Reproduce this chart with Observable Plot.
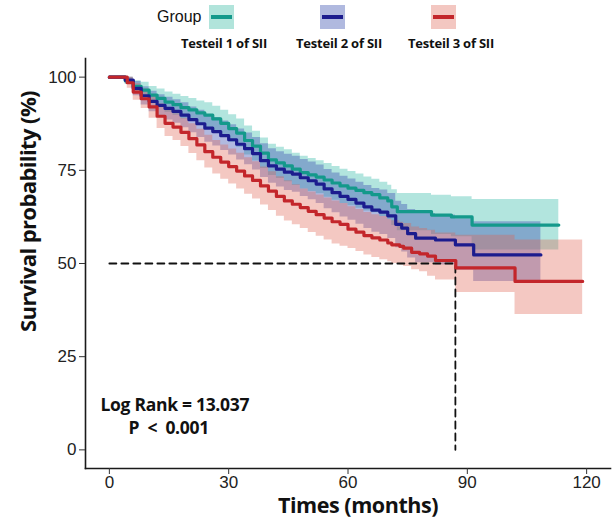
<!DOCTYPE html>
<html>
<head>
<meta charset="utf-8">
<script src="https://cdn.jsdelivr.net/npm/d3@7"></script>
<script src="https://cdn.jsdelivr.net/npm/@observablehq/plot@0.6"></script>
<style>
  html, body { margin: 0; padding: 0; background: #ffffff; }
  #wrap { position: relative; width: 614px; height: 520px; overflow: hidden; }
  #legend { position: absolute; left: 0; top: 0; width: 614px; height: 56px; }
  .lg-title { position: absolute; left: 157px; top: 8px; font: 16px "Liberation Sans", Arial, sans-serif; color: #111; }
  .lg-key { position: absolute; top: 5px; width: 25px; height: 24px; }
  .lg-key i { position: absolute; left: 2px; right: 2px; top: 10px; height: 4px; display: block; }
  .lg-lab { position: absolute; top: 34px; width: 120px; margin-left: -60px; text-align: center;
            font: bold 13px "Open Sans", sans-serif; letter-spacing: -0.2px; color: #111; }
  #chart { position: absolute; left: 0; top: 0; }
</style>
</head>
<body>
<div id="wrap">
  <div id="chart"></div>
  <div id="legend"></div>
</div>
<script>
// ---------- data ----------
const groups = ["Testeil 1 of SII", "Testeil 2 of SII", "Testeil 3 of SII"];
const legendTitle = "Group";
const xTicks = [0, 30, 60, 90, 120];
const yTicks = [0, 25, 50, 75, 100];
const xLabel = "Times (months)";
const yLabel = "Survival probability (%)";
const statLine1 = "Log Rank = 13.037";
const statLine2 = "P < 0.001";
const medianTime = 87;
const medianSurv = 50;

// Group 1 (teal)
const t1 = [0,3,4,6,8,10,12,14,16,18,20,22,24,26,28,30,32,34,36,38,40,42,44,46,48,50,52,54,56,58,60,62,64,66,68,70,71,72.4,81,86,91.2,113];
const s1 = [100,100,99,97.5,96.5,95.2,94.3,93.3,92.6,91.8,91.2,90.4,89.8,88.8,87.6,86.2,85,83,81.5,79.6,77.8,77,76.2,75.3,74.4,73.8,73.2,72.4,71.6,70.8,70.2,69.6,69,68.5,67.6,66.8,65.2,63.9,63,62.5,60.3,60.3];
const lo1 = [100,100,98,96,94.4,92.9,91.8,90.6,89.8,88.8,88.1,87.2,86.5,85.4,84.1,82.5,81.2,79.1,77.5,75.5,73.6,72.8,71.9,70.9,70,69.3,68.7,67.8,67,66.1,65.5,64.8,64.1,63.6,62.6,61.8,60.2,58.8,57.8,57.2,53.6,53.6];
const hi1 = [100,100,100,99,98.6,97.5,96.8,96,95.4,94.8,94.3,93.6,93.1,92.2,91.1,89.9,88.8,86.9,85.5,83.7,82,81.2,80.5,79.6,78.8,78.2,77.6,76.8,76,75.3,74.7,74,73.2,72.6,71.8,71,69.8,68.8,68.3,67.9,67.2,67.2];

// Group 2 (navy)
const t2 = [0,3,4,6,8,10,12,14,16,18,20,22,24,26,28,30,32,34,36,38,40,42,44,46,48,50,52,54,56,58,60,62,64,66,68,70,72,73.5,75,77,82,87,91.6,108.5];
const s2 = [100,100,99.2,97,95,93.5,92.4,91.6,90.8,89.8,88.6,87.5,86.3,85.4,84.3,83.2,82,80.8,79.5,77.6,76.2,75.3,74.5,74,73,72.2,71.3,70,69,68,67.2,66.2,65.2,64.3,63.8,62.8,60.5,59.5,58,56.8,56.3,55,52.3,52.3];
const lo2 = [100,100,98.2,95,92.5,90.7,89.4,88.5,87.6,86.4,85.1,83.8,82.5,81.5,80.3,79.1,77.8,76.5,75.1,73.1,71.5,70.5,69.6,69.1,68,67.1,66.1,64.7,63.6,62.5,61.6,60.5,59.4,58.4,57.8,56.7,54.2,53.1,51.5,50.2,49.6,48.2,45.2,45.2];
const hi2 = [100,100,100,98.8,97.4,96.2,95.3,94.6,93.9,93.1,92,91.1,90,89.2,88.2,87.2,86.1,85,83.8,82.1,80.8,80,79.3,78.8,77.9,77.2,76.4,75.2,74.3,73.4,72.7,71.8,70.9,70.1,69.7,68.8,66.7,65.8,64.5,63.4,63,62,61.2,61.2];

// Group 3 (red)
const t3 = [0,3.4,4.5,6,8,10,12,14,16,18,20,22,24,26,28,30,32,34,36,38,40,42,44,46,48,50,52,54,56,58,60,62,64,66,68,70,71,73,74,76,78,80,82,87.1,102,119];
const s3 = [100,100,98.5,96,94.2,92,89.5,87.6,86.6,85.2,83.5,81.8,80,78.5,77.2,76,74.8,73.5,72.3,70.8,69.4,68,66.8,65.9,65,64,63.1,62.2,61.2,60.5,59.2,58.4,57.5,56.9,56.3,55.5,55,54.6,54.1,53,52.6,52,50.8,48.8,45.2,45.2];
const lo3 = [100,100,97,93.8,91.6,89,86.2,84.1,83,81.4,79.5,77.6,75.6,74,72.6,71.3,70,68.6,67.3,65.7,64.2,62.7,61.4,60.4,59.4,58.3,57.3,56.3,55.2,54.6,54,53.2,52.3,51.6,51,50.5,50,49.6,49.2,48.3,47.8,46.6,45.6,42.2,36.3,36.3];
const hi3 = [100,100,100,98.2,96.8,95,92.8,91.1,90.2,89,87.5,86,84.4,83,81.8,80.7,79.6,78.4,77.3,75.9,74.6,73.3,72.2,71.1,70,69.2,68.4,67.6,66.8,66.1,65.2,64.5,63.7,63.1,62.6,61.9,61.5,61.1,60.7,59.8,59.4,58.9,58.2,57.6,56.3,56.3];

// ---------- styles ----------
const lineColors = ["#14998b", "#1c1c8e", "#c3262b"];
const fillColors = ["#22b4a0", "#3b50b2", "#e0604f"];
const fillOpac = [0.35, 0.4, 0.35];
const keyColors = ["#b1e4db", "#b0b9df", "#f3c7c1"];

const series = [[t1, s1, lo1, hi1], [t2, s2, lo2, hi2], [t3, s3, lo3, hi3]].map(([t, s, lo, hi], g) =>
  t.map((tt, i) => ({t: tt, s: s[i], lo: lo[i], hi: hi[i], g: groups[g]})));

const medianPath = [
  {t: xTicks[0], s: medianSurv},
  {t: medianTime, s: medianSurv},
  {t: medianTime, s: yTicks[0]}
];

const boldFont = "'Open Sans', 'Noto Sans', sans-serif";
const tickFont = "'Liberation Sans', Arial, sans-serif";

const chart = Plot.plot({
  width: 614,
  height: 520,
  marginLeft: 85,
  marginRight: 4,
  marginTop: 58,
  marginBottom: 52,
  style: {background: "transparent", fontFamily: tickFont, color: "#222", overflow: "visible"},
  x: {domain: [-6, 126]},
  y: {domain: [-5, 105]},
  marks: [
    ...series.map((d, g) => Plot.areaY(d, {x: "t", y1: "lo", y2: "hi", curve: "step-after",
        fill: fillColors[g], fillOpacity: fillOpac[g]})),
    Plot.line(medianPath, {x: "t", y: "s", stroke: "#111", strokeWidth: 1.8, strokeDasharray: "7,5"}),
    ...series.map((d, g) => Plot.line(d, {x: "t", y: "s", curve: "step-after",
        stroke: lineColors[g], strokeWidth: 3.2})),
    Plot.frame({anchor: "left", stroke: "#1a1a1a", strokeWidth: 1.6}),
    Plot.frame({anchor: "bottom", stroke: "#1a1a1a", strokeWidth: 1.6}),
    Plot.axisX({ticks: xTicks, tickSize: 6, tickPadding: 1, fontSize: 17, label: null, stroke: "#333", fill: "#222"}),
    Plot.axisY({ticks: yTicks, tickSize: 6, tickPadding: 3, fontSize: 17, label: null, stroke: "#333", fill: "#222"}),
    Plot.text([yLabel], {frameAnchor: "left", textAnchor: "middle", lineAnchor: "middle", dx: -57, dy: -52, rotate: -90,
        fontSize: 22, fontWeight: "bold", fontFamily: boldFont, fill: "#111", text: d => d}),
    Plot.text([xLabel], {frameAnchor: "bottom", textAnchor: "middle", lineAnchor: "middle", dx: 10, dy: 37.5,
        fontSize: 21.5, fontWeight: "bold", fontFamily: boldFont, fill: "#111", text: d => d}),
    Plot.text([statLine1], {frameAnchor: "bottom-left", lineAnchor: "middle", dx: 15, dy: -63, textAnchor: "start", fontSize: 17.5,
        fontWeight: "bold", fontFamily: boldFont, fill: "#111", text: d => d}),
    Plot.text([statLine2], {frameAnchor: "bottom-left", lineAnchor: "middle", dx: 43, dy: -40, textAnchor: "start", fontSize: 17.5,
        fontWeight: "bold", fontFamily: boldFont, fill: "#111", text: d => d})
  ]
});
chart.querySelectorAll("text").forEach(el => {
  const s = el.textContent;
  if (s === yLabel) el.setAttribute("letter-spacing", "-0.6");
  if (s === xLabel) el.setAttribute("letter-spacing", "-0.45");
  if (s === statLine1) el.setAttribute("letter-spacing", "-0.3");
  if (s === statLine2) { el.setAttribute("letter-spacing", "-0.3"); el.setAttribute("word-spacing", "4"); }
});
document.getElementById("chart").appendChild(chart);

// ---------- legend ----------
const legend = document.getElementById("legend");
const tEl = document.createElement("div");
tEl.className = "lg-title"; tEl.textContent = legendTitle; legend.appendChild(tEl);
const keyLeft = [209, 320, 431];
const labCenter = [224, 339, 451];
groups.forEach((g, i) => {
  const k = document.createElement("div");
  k.className = "lg-key"; k.style.left = keyLeft[i] + "px"; k.style.background = keyColors[i];
  const ln = document.createElement("i"); ln.style.background = lineColors[i]; k.appendChild(ln);
  legend.appendChild(k);
  const lab = document.createElement("div");
  lab.className = "lg-lab"; lab.style.left = labCenter[i] + "px"; lab.textContent = g;
  legend.appendChild(lab);
});
</script>
</body>
</html>
